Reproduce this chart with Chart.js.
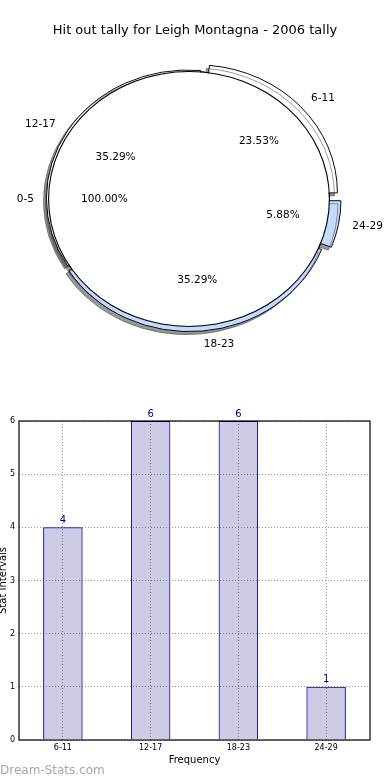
<!DOCTYPE html>
<html>
<head>
<meta charset="utf-8">
<script src="https://cdn.jsdelivr.net/npm/chart.js@4/dist/chart.umd.min.js"></script>
<style>
  body { margin: 0; background: #fff; width: 390px; height: 780px; position: relative; overflow: hidden; font-family: "DejaVu Sans", sans-serif; }
  .box { position: absolute; left: 0; }
  #title { position: absolute; top: 22px; left: 0; width: 390px; text-align: center; font-size: 13px; color: #000; }
  #mark { position: absolute; left: 0; top: 763px; font-size: 12px; color: #a6a6a6; }
</style>
</head>
<body>
<div class="box" style="top:0;width:390px;height:380px"><canvas id="pieShadow"></canvas></div>
<div class="box" style="top:0;width:390px;height:380px"><canvas id="pieBack"></canvas></div>
<div class="box" style="top:0;width:390px;height:380px"><canvas id="pieFront"></canvas></div>
<div id="title">Hit out tally for Leigh Montagna - 2006 tally</div>
<div class="box" style="top:390px;width:390px;height:390px"><canvas id="bars"></canvas></div>
<div id="mark">Dream-Stats.com</div>
<script>
// pie data (matplotlib order, counterclockwise from 3 o'clock)
const pieLabels = ['6-11', '12-17', '18-23', '24-29'];
const pieValues = [4, 6, 6, 1];
const pieColors = ['#ffffff', '#ffffff', '#c4dbff', '#c4dbff'];
const pieExplode = [40, 6, 17, 27];   // chart.js arc offset option
// the 100% overlay pie
const topLabels = ['0-5'];
const topValues = [1];

// bar data
const barLabels = ['6-11', '12-17', '18-23', '24-29'];
const barValues = [4, 6, 6, 1];
const yTicks = [0, 1, 2, 3, 4, 5, 6];

const R = 141;            // horizontal radius
const squash = 128 / 141; // vertical / horizontal
const FONT = '"DejaVu Sans", sans-serif';

// chart.js goes clockwise from the top, so reverse and start at 3 o'clock
const rev = a => a.slice().reverse();

// squash the pie into an ellipse, optionally with the matplotlib style shadow
function ellipse(withShadow) {
  return {
    id: 'ellipse',
    beforeDatasetsDraw(chart) {
      const a = chart.getDatasetMeta(0).data[0];
      const ctx = chart.ctx;
      ctx.save();
      ctx.translate(a.x, a.y);
      ctx.scale(1, squash);
      ctx.translate(-a.x, -a.y);
      if (withShadow) {
        ctx.shadowColor = 'rgba(50,50,50,0.5)';
        ctx.shadowOffsetX = -3;
        ctx.shadowOffsetY = 3;
        ctx.shadowBlur = 0.5;
      }
    },
    afterDatasetsDraw(chart) {
      chart.ctx.restore();
    }
  };
}

const pieOpts = {
  responsive: true,
  maintainAspectRatio: false,
  animation: false,
  radius: R,
  rotation: 90,
  layout: { padding: { left: 0, right: 12, top: 20, bottom: 2 } },
  plugins: { legend: { display: false }, tooltip: { enabled: false } }
};

const back = new Chart(document.getElementById('pieBack'), {
  type: 'pie',
  data: {
    labels: rev(pieLabels),
    datasets: [{
      data: rev(pieValues),
      backgroundColor: rev(pieColors),
      borderColor: '#000',
      borderWidth: 1,
      offset: rev(pieExplode)
    }]
  },
  options: pieOpts,
  plugins: [ellipse(true)]
});

// how far chart.js actually pushes a wedge out at its rim
function pushOut(arc) {
  const off = (arc.options.offset || 0) / 4;
  const circ = arc.endAngle - arc.startAngle;
  return off + off * (1 - Math.sin(Math.min(Math.PI, circ)));
}

// labels for both pies, drawn on the front canvas
const pieText = {
  id: 'pieText',
  afterDraw(chart) {
    const ctx = chart.ctx;
    ctx.save();
    ctx.font = '10.5px ' + FONT;
    ctx.fillStyle = '#000';
    ctx.textBaseline = 'middle';
    const put = (mid, x, y, r, off, name, pct) => {
      const c = Math.cos(mid), s = Math.sin(mid);
      const cx = x + c * off, cy = y + s * off * squash;
      ctx.textAlign = c > 0.001 ? 'left' : (c < -0.001 ? 'right' : 'center');
      ctx.fillText(name, cx + c * r * 1.1, cy + s * r * 1.1 * squash);
      ctx.textAlign = 'center';
      ctx.fillText(pct, cx + c * r * 0.6, cy + s * r * 0.6 * squash);
    };
    const bl = rev(pieLabels), bv = rev(pieValues);
    const tot = bv.reduce((a, b) => a + b, 0);
    back.getDatasetMeta(0).data.forEach((arc, i) => {
      put((arc.startAngle + arc.endAngle) / 2, arc.x, arc.y, R, pushOut(arc),
        bl[i], (bv[i] / tot * 100).toFixed(2) + '%');
    });
    // single full wedge: matplotlib puts its label at 180 degrees
    const ft = topValues.reduce((a, b) => a + b, 0);
    chart.getDatasetMeta(0).data.forEach((arc, i) => {
      put(Math.PI, arc.x, arc.y, R, 0, topLabels[i], (topValues[i] / ft * 100).toFixed(2) + '%');
    });
    ctx.restore();
  }
};

// front pie: thin black rim ring + white disc, so no radius line shows
function frontPie(id, plugins) {
  return new Chart(document.getElementById(id), {
    type: 'pie',
    data: {
      labels: topLabels,
      datasets: [
        { data: topValues, backgroundColor: '#000', borderWidth: 0, weight: 1.1 },
        { data: topValues, backgroundColor: '#ffffff', borderWidth: 0, weight: 140 }
      ]
    },
    options: pieOpts,
    plugins: plugins
  });
}
// its shadow sits underneath every wedge, like matplotlib's zorder
frontPie('pieShadow', [ellipse(true)]);
frontPie('pieFront', [ellipse(false), pieText]);

// bar chart: frame + value labels
const frame = {
  id: 'frame',
  afterDatasetsDraw(chart) {
    const ctx = chart.ctx;
    const a = chart.chartArea;
    ctx.save();
    ctx.font = '10px ' + FONT;
    ctx.fillStyle = '#000080';
    ctx.textAlign = 'center';
    ctx.textBaseline = 'bottom';
    chart.getDatasetMeta(0).data.forEach((bar, i) => {
      ctx.fillText(String(barValues[i]), bar.x, bar.y - 2);
    });
    ctx.strokeStyle = '#000';
    ctx.lineWidth = 1.2;
    ctx.strokeRect(a.left, a.top, a.right - a.left, a.bottom - a.top);
    ctx.restore();
  }
};

new Chart(document.getElementById('bars'), {
  type: 'bar',
  data: {
    labels: barLabels,
    datasets: [{
      data: barValues,
      backgroundColor: 'rgba(0,0,128,0.2)',
      borderColor: '#000080',
      borderWidth: 1,
      categoryPercentage: 1,
      barPercentage: 0.45
    }]
  },
  options: {
    responsive: true,
    maintainAspectRatio: false,
    animation: false,
    layout: { padding: { left: 0, right: 20, top: 31, bottom: 0 } },
    plugins: { legend: { display: false }, tooltip: { enabled: false } },
    scales: {
      x: {
        afterFit: s => { s.height = 40; },
        grid: { offset: false, color: '#9a9a9a', tickLength: 0, drawTicks: false },
        border: { display: false, dash: [1, 2] },
        ticks: { font: { family: FONT, size: 8 }, color: '#000', padding: 3, maxRotation: 0 },
        title: { display: true, text: 'Frequency', font: { family: FONT, size: 10 }, color: '#000', padding: { top: 0, bottom: 14 } }
      },
      y: {
        min: 0,
        max: 6,
        afterFit: s => { s.width = 19; },
        afterBuildTicks: s => { s.ticks = yTicks.map(v => ({ value: v })); },
        grid: { color: '#9a9a9a', drawTicks: false },
        border: { display: false, dash: [1, 2] },
        ticks: { font: { family: FONT, size: 8 }, color: '#000', padding: 4 },
        title: { display: true, text: 'Stat Intervals', font: { family: FONT, size: 10 }, color: '#000', padding: { top: -3, bottom: 0 } }
      }
    }
  },
  plugins: [frame]
});
</script>
</body>
</html>
